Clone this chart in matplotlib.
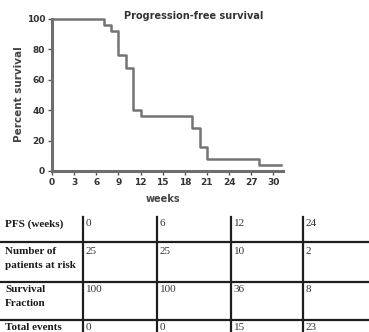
import matplotlib
matplotlib.use("Agg")
import matplotlib.pyplot as plt
from matplotlib.lines import Line2D

# Kaplan-Meier progression-free survival curve
weeks = [0, 7, 8, 9, 10, 11, 12, 19, 20, 21, 28, 31]
percent = [100, 96, 92, 76, 68, 40, 36, 28, 16, 8, 4, 4]
x_ticks = [0, 3, 6, 9, 12, 15, 18, 21, 24, 27, 30]
y_ticks = [0, 20, 40, 60, 80, 100]

# Summary table beneath the curve
row_labels = ["PFS (weeks)", "Number of\npatients at risk", "Survival\nFraction", "Total events"]
pfs_weeks = [0, 6, 12, 24]
at_risk = [25, 25, 10, 2]
surv_fraction = [100, 100, 36, 8]
total_events = [0, 0, 15, 23]

W, H = 369, 332
fig = plt.figure(figsize=(W / 100, H / 100), dpi=100)
fig.patch.set_facecolor("white")


def fx(px):
    return px / W


def fy(py):
    return 1 - py / H


ax = fig.add_axes([fx(52), fy(171), fx(283) - fx(52), fy(19) - fy(171)])
ax.step(weeks, percent, where="post", color="#747474", lw=1.8, clip_on=False, zorder=3)
ax.set_xlim(0, 31.3)
ax.set_ylim(0, 100)
ax.set_xticks(x_ticks)
ax.set_yticks(y_ticks)
for side in ("top", "right"):
    ax.spines[side].set_visible(False)
for side in ("left", "bottom"):
    ax.spines[side].set_color("#6e6e6e")
    ax.spines[side].set_linewidth(2.2)
ax.tick_params(direction="out", length=3, width=1, color="#555555",
               labelsize=6.5, labelcolor="#333333", pad=2)
for lbl in ax.get_xticklabels() + ax.get_yticklabels():
    lbl.set_fontweight("bold")

fig.text(fx(194), fy(16), "Progression-free survival", ha="center", va="center",
         fontsize=7, fontweight="bold", color="#333333")
fig.text(fx(19), fy(94), "Percent survival", ha="center", va="center", rotation=90,
         fontsize=7.5, fontweight="bold", color="#444444")
fig.text(fx(163), fy(199), "weeks", ha="center", va="center",
         fontsize=7, fontweight="bold", color="#444444")

# Table grid
line_kw = dict(color="#1e1e1e", lw=1.6, transform=fig.transFigure)
for py in (242, 282, 320):
    fig.add_artist(Line2D([0, 1], [fy(py), fy(py)], **line_kw))
col_x = [83, 157, 231, 303]
for px in col_x:
    fig.add_artist(Line2D([fx(px), fx(px)], [fy(217), 0], **line_kw))

row_y = [224, 251, 289, 327]
line_gap = 14
rows = [pfs_weeks, at_risk, surv_fraction, total_events]
for label, py, values in zip(row_labels, row_y, rows):
    for k, part in enumerate(label.split("\n")):
        fig.text(fx(5), fy(py + k * line_gap), part, ha="left", va="center",
                 fontsize=8, fontweight="bold", family="Liberation Serif",
                 color="#1a1a1a")
    for px, v in zip(col_x, values):
        fig.text(fx(px + 3), fy(py), str(v), ha="left", va="center",
                 fontsize=8, family="Liberation Serif", color="#333333")

fig.savefig("out.png", dpi=100, facecolor="white")
